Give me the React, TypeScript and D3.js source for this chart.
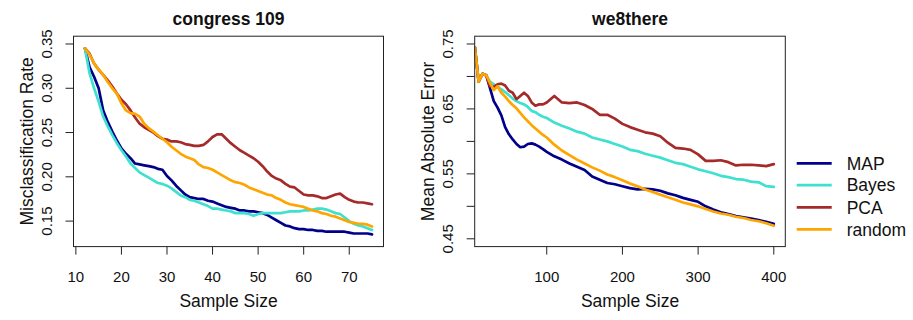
import React from "react";
import * as d3 from "d3";

// ---------- data ----------
const congressN = [12,13,14,15,16,17,18,19,20,21,22,23,24,25,26,27,28,29,30,31,32,33,34,35,36,37,38,39,40,41,42,43,44,45,46,47,48,49,50,51,52,53,54,55,56,57,58,59,60,61,62,63,64,65,66,67,68,69,70,71,72,73,74,75];
const congressMAP = [.345,.324,.313,.300,.275,.262,.251,.241,.232,.226,.221,.215,.214,.213,.212,.211,.209,.208,.201,.196,.190,.185,.180,.177,.176,.175,.175,.173,.172,.170,.168,.166,.165,.164,.162,.162,.161,.161,.160,.159,.157,.154,.151,.148,.145,.144,.142,.141,.141,.140,.140,.139,.139,.138,.138,.138,.138,.138,.137,.136,.136,.136,.136,.135];
const congressBayes = [.345,.317,.300,.285,.268,.257,.247,.238,.230,.223,.215,.210,.205,.202,.199,.196,.193,.192,.190,.187,.183,.179,.177,.174,.173,.171,.169,.167,.164,.164,.163,.162,.161,.159,.159,.159,.158,.156,.158,.159,.159,.159,.159,.159,.160,.161,.161,.161,.162,.162,.163,.164,.164,.163,.161,.159,.158,.154,.150,.147,.145,.144,.142,.140];
const congressPCA = [.345,.339,.328,.321,.315,.309,.302,.294,.287,.282,.275,.267,.260,.256,.253,.250,.246,.243,.242,.240,.240,.239,.237,.236,.235,.235,.236,.240,.245,.248,.248,.243,.238,.234,.230,.227,.224,.221,.217,.212,.206,.201,.198,.196,.192,.189,.188,.184,.180,.179,.179,.178,.176,.176,.178,.180,.181,.177,.174,.172,.171,.171,.170,.169];
const congressRandom = [.345,.338,.328,.321,.315,.307,.300,.294,.283,.275,.272,.271,.268,.260,.255,.251,.247,.243,.239,.234,.230,.226,.223,.221,.219,.214,.211,.210,.208,.205,.202,.199,.196,.194,.193,.191,.188,.186,.184,.182,.180,.179,.176,.174,.171,.169,.168,.167,.166,.164,.162,.161,.159,.158,.156,.155,.153,.151,.149,.148,.147,.147,.146,.144];

const we8N = [5,10,15,20,25,30,35,40,45,50,55,60,65,70,75,80,85,90,95,100,110,120,130,140,150,160,170,180,190,200,210,220,230,240,250,260,270,280,290,300,310,320,330,340,350,360,370,380,390,400];
const we8MAP = [.745,.692,.704,.702,.682,.662,.652,.640,.622,.611,.603,.596,.591,.592,.596,.597,.595,.592,.588,.584,.577,.572,.566,.561,.556,.546,.541,.536,.534,.531,.528,.526,.527,.526,.524,.520,.517,.513,.510,.507,.500,.495,.491,.488,.485,.483,.481,.479,.476,.473];
const we8Bayes = [.745,.692,.704,.702,.692,.688,.684,.680,.676,.671,.666,.662,.659,.657,.653,.647,.645,.641,.638,.636,.629,.624,.620,.615,.612,.606,.603,.600,.596,.592,.587,.585,.581,.578,.575,.571,.567,.565,.561,.557,.554,.551,.547,.545,.542,.541,.538,.537,.531,.530];
const we8PCA = [.745,.692,.704,.702,.685,.684,.688,.689,.686,.678,.675,.665,.670,.675,.670,.660,.655,.657,.657,.660,.670,.660,.659,.660,.656,.650,.641,.641,.635,.627,.622,.618,.614,.612,.608,.598,.590,.589,.587,.580,.570,.570,.571,.568,.563,.564,.564,.563,.562,.565];
const we8Random = [.745,.692,.704,.702,.690,.679,.685,.675,.669,.662,.656,.651,.644,.637,.631,.625,.620,.615,.610,.606,.595,.586,.579,.572,.566,.560,.555,.549,.545,.540,.535,.531,.526,.522,.518,.514,.510,.506,.503,.500,.496,.492,.489,.487,.484,.482,.479,.477,.474,.470];

const seriesNames = ["MAP", "Bayes", "PCA", "random"];
const seriesColors = ["#00008B", "#40E0D0", "#A52A2A", "#FFA500"];

const congressXTicks = [10, 20, 30, 40, 50, 60, 70];
const congressYTicks = [0.15, 0.20, 0.25, 0.30, 0.35];
const congressYLabels = ["0.15", "0.20", "0.25", "0.30", "0.35"];
const we8XTicks = [100, 200, 300, 400];
const we8YTicks = [0.45, 0.50, 0.55, 0.60, 0.65, 0.70, 0.75];
const we8YLabels = ["0.45", "", "0.55", "", "0.65", "", "0.75"];

const FONT = "'Liberation Sans', Arial, Helvetica, sans-serif";

type PanelProps = {
  id: string;
  title: string;
  yTitle: string;
  xs: number[];
  ys: number[][];
  xDomain: [number, number];
  yDomain: [number, number];
  left: number;
  right: number;
  xTicks: number[];
  yTicks: number[];
  yLabels: string[];
};

const TOP = 36.2;
const BOTTOM = 246.6;

function Panel(p: PanelProps) {
  const x = d3.scaleLinear().domain(p.xDomain).range([p.left, p.right]);
  const y = d3.scaleLinear().domain(p.yDomain).range([BOTTOM, TOP]);
  const line = d3
    .line<number>()
    .x((_, i) => x(p.xs[i]))
    .y((d) => y(d));
  const cx = (p.left + p.right) / 2;
  const cy = (TOP + BOTTOM) / 2;
  return (
    <g>
      <defs>
        <clipPath id={p.id}>
          <rect x={p.left} y={TOP} width={p.right - p.left} height={BOTTOM - TOP} />
        </clipPath>
      </defs>
      <g clipPath={`url(#${p.id})`}>
        {p.ys.map((s, k) => (
          <path
            key={k}
            d={line(s) || ""}
            fill="none"
            stroke={seriesColors[k]}
            strokeWidth={2.7}
            strokeLinejoin="round"
            strokeLinecap="round"
          />
        ))}
      </g>
      <rect
        x={p.left}
        y={TOP}
        width={p.right - p.left}
        height={BOTTOM - TOP}
        fill="none"
        stroke="#222"
        strokeWidth={1}
      />
      {p.xTicks.map((t) => (
        <g key={"x" + t}>
          <line x1={x(t)} x2={x(t)} y1={BOTTOM} y2={BOTTOM + 8} stroke="#222" strokeWidth={1} />
          <text x={x(t)} y={281.5} textAnchor="middle" fontSize={15} fill="#111">
            {t}
          </text>
        </g>
      ))}
      {p.yTicks.map((t, i) => (
        <g key={"y" + t}>
          <line x1={p.left - 8} x2={p.left} y1={y(t)} y2={y(t)} stroke="#222" strokeWidth={1} />
          {p.yLabels[i] ? (
            <text
              transform={`translate(${p.left - 21.5},${y(t)}) rotate(-90)`}
              textAnchor="middle"
              fontSize={15}
              fill="#111"
            >
              {p.yLabels[i]}
            </text>
          ) : null}
        </g>
      ))}
      <text x={cx} y={25} textAnchor="middle" fontSize={17.5} fontWeight="bold" fill="#111">
        {p.title}
      </text>
      <text x={cx} y={307} textAnchor="middle" fontSize={17.5} fill="#111">
        Sample Size
      </text>
      <text
        transform={`translate(${p.left - 41},${cy}) rotate(-90)`}
        textAnchor="middle"
        fontSize={17.5}
        fill="#111"
      >
        {p.yTitle}
      </text>
    </g>
  );
}

export default function App() {
  const legendY = [163.3, 185.2, 207.4, 229.4];
  return (
    <svg
      width={913}
      height={320}
      style={{ position: "absolute", left: 0, top: 0, background: "#fff" }}
      fontFamily={FONT}
    >
      <rect x={0} y={0} width={913} height={320} fill="#fff" />
      <Panel
        id="clipA"
        title="congress 109"
        yTitle="Misclassification Rate"
        xs={congressN}
        ys={[congressMAP, congressBayes, congressPCA, congressRandom]}
        xDomain={[9.48, 77.52]}
        yDomain={[0.1212, 0.3588]}
        left={73.5}
        right={383.5}
        xTicks={congressXTicks}
        yTicks={congressYTicks}
        yLabels={congressYLabels}
      />
      <Panel
        id="clipB"
        title="we8there"
        yTitle="Mean Absolute Error"
        xs={we8N}
        ys={[we8MAP, we8Bayes, we8PCA, we8Random]}
        xDomain={[4.8, 415.2]}
        yDomain={[0.438, 0.762]}
        left={474.7}
        right={785.3}
        xTicks={we8XTicks}
        yTicks={we8YTicks}
        yLabels={we8YLabels}
      />
      {seriesNames.map((name, i) => (
        <g key={name}>
          <line
            x1={796.7}
            x2={831.7}
            y1={legendY[i]}
            y2={legendY[i]}
            stroke={seriesColors[i]}
            strokeWidth={2.7}
          />
          <text x={846.7} y={legendY[i] + 6.2} fontSize={17.5} fill="#111">
            {name}
          </text>
        </g>
      ))}
    </svg>
  );
}
